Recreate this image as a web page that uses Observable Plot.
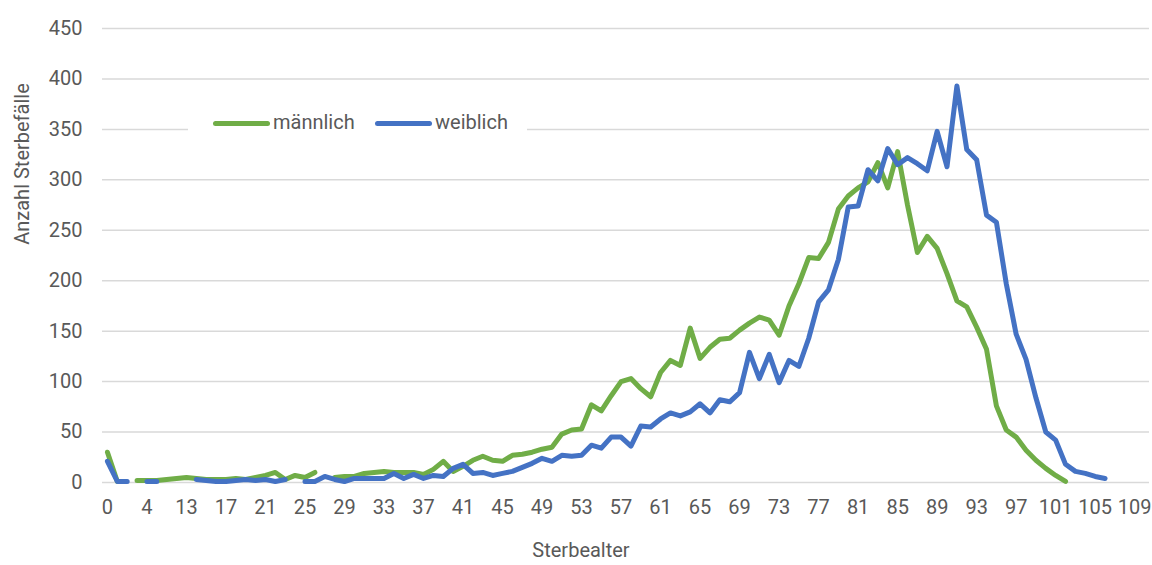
<!DOCTYPE html>
<html>
<head>
<meta charset="utf-8">
<script src="https://cdn.jsdelivr.net/npm/d3@7"></script>
<script src="https://cdn.jsdelivr.net/npm/@observablehq/plot@0.6"></script>
<style>
  html, body { margin: 0; padding: 0; background: #fff; }
  #wrap { position: relative; width: 1152px; height: 565px; font-family: "Roboto", sans-serif; }
  #legend { position: absolute; left: 188px; top: 108px; width: 339px; height: 28px; background: #fff;
            font-size: 20px; color: #595959; }
  .sw { position: absolute; top: 13px; width: 57px; height: 5px; border-radius: 3px; }
  .lt { position: absolute; top: 0; line-height: 28px; white-space: nowrap; }
  #ytitle { position: absolute; left: 22px; top: 164px; transform: translate(-50%, -50%) rotate(-90deg);
            font-size: 20px; color: #595959; white-space: nowrap; }
</style>
</head>
<body>
<div id="wrap"></div>
<script>
// Categories (ages) as on the category axis
const ages = ["0","1","2","3","4","5","7","10",
  "13","14","15","16","17","18","19","20","21","22",
  "23","24","25","26","27","28","29","30","31","32",
  "33","34","35","36","37","38","39","40","41","42",
  "43","44","45","46","47","48","49","50","51","52",
  "53","54","55","56","57","58","59","60","61","62",
  "63","64","65","66","67","68","69","70","71","72",
  "73","74","75","76","77","78","79","80","81","82",
  "83","84","85","86","87","88","89","90","91","92",
  "93","94","95","96","97","98","99","100","101","102",
  "103","104","105","106","107","108","109","110"];

const maennlich = [30,1,null,2,2,2,3,4,
  5,4,3,3,3,4,3,5,7,10,
  3,7,5,10,null,5,6,6,9,10,
  11,10,10,10,8,13,21,11,16,22,
  26,22,21,27,28,30,33,35,48,52,
  53,77,71,86,100,103,93,85,109,121,
  116,153,123,134,142,143,151,158,164,161,
  146,175,197,223,222,238,271,284,292,298,
  317,292,328,275,228,244,232,207,180,174,
  154,132,76,52,45,32,22,14,7,1,
  null,null,null,null,null,null,null,null];

const weiblich = [21,1,1,null,1,1,null,null,
  null,3,2,1,1,2,3,2,3,1,
  3,null,1,1,6,3,1,4,4,4,
  4,9,4,8,4,7,6,14,18,9,
  10,7,9,11,15,19,24,21,27,26,
  27,37,34,45,45,36,56,55,63,69,
  66,70,78,69,82,80,89,129,103,127,
  99,121,115,143,179,191,221,273,274,310,
  299,331,315,322,316,309,348,313,393,330,
  320,265,258,197,147,122,84,50,42,18,
  11,9,6,4,null,null,null,null];

const seriesNames = ["männlich", "weiblich"];
const seriesColors = ["#70AD47", "#4472C4"];
const yTicks = [0,50,100,150,200,250,300,350,400,450];
const xTicks = ages.filter((d, i) => i % 4 === 0 && i < 105);
const xTitle = "Sterbealter";
const yTitle = "Anzahl Sterbefälle";

const chart = Plot.plot({
  width: 1152,
  height: 565,
  marginLeft: 102,
  marginRight: 3,
  marginTop: 28,
  marginBottom: 83,
  style: { fontFamily: "Roboto, sans-serif", fontSize: "20px", color: "#595959", background: "#fff" },
  x: { type: "point", domain: ages, padding: 0.5 },
  y: { domain: [0, 450] },
  marks: [
    Plot.ruleY(yTicks, { stroke: "#d9d9d9", strokeWidth: 1.5 }),
    Plot.line(ages, { x: d => d, y: (d, i) => maennlich[i] ?? NaN, stroke: seriesColors[0],
      strokeWidth: 5, strokeLinejoin: "round", strokeLinecap: "round" }),
    Plot.line(ages, { x: d => d, y: (d, i) => weiblich[i] ?? NaN, stroke: seriesColors[1],
      strokeWidth: 5, strokeLinejoin: "round", strokeLinecap: "round" }),
    Plot.axisX({ ticks: xTicks, tickSize: 0, tickPadding: 17, label: null, fontSize: 20, fill: "#595959" }),
    Plot.axisY({ ticks: yTicks, tickSize: 0, tickPadding: 20, label: null, fontSize: 20, fill: "#595959" }),
    Plot.text([xTitle], { text: d => d, frameAnchor: "bottom", dx: -45, dy: 74, fontSize: 20, fill: "#595959" })
  ]
});

const wrap = document.getElementById("wrap");
wrap.appendChild(chart);

const yt = document.createElement("div");
yt.id = "ytitle";
yt.textContent = yTitle;
wrap.appendChild(yt);

const legend = document.createElement("div");
legend.id = "legend";
const swLeft = [25, 187];
const txtLeft = [85, 247];
seriesNames.forEach((name, i) => {
  const sw = document.createElement("span");
  sw.className = "sw";
  sw.style.background = seriesColors[i];
  sw.style.left = swLeft[i] + "px";
  const t = document.createElement("span");
  t.className = "lt";
  t.style.left = txtLeft[i] + "px";
  t.textContent = name;
  legend.appendChild(sw);
  legend.appendChild(t);
});
wrap.appendChild(legend);
</script>
</body>
</html>
